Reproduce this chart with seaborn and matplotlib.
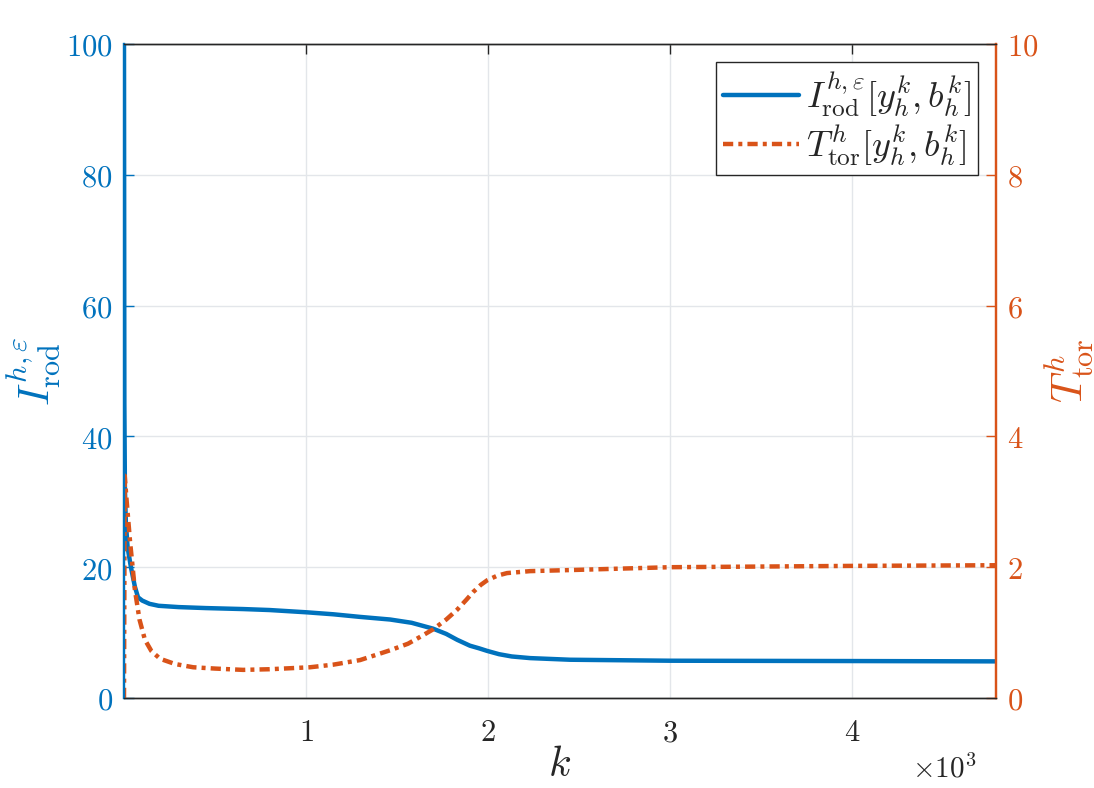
import numpy as np
import pandas as pd
import matplotlib
matplotlib.use("Agg")
import matplotlib.pyplot as plt
import seaborn as sns
from matplotlib.ticker import FixedLocator, FuncFormatter

# ---- data ----
k_rod = [0, 2, 5, 10, 20, 38, 60, 77, 100, 140, 190, 300, 450, 654, 800, 1005,
         1150, 1297, 1462, 1580, 1698, 1770, 1830, 1900, 1950, 1995, 2060, 2130,
         2231, 2450, 3000, 4000, 4790]
I_rod = [100, 45, 32, 27, 23, 20, 17, 15.4, 14.9, 14.4, 14.1, 13.9, 13.75, 13.6,
         13.45, 13.1, 12.8, 12.4, 12.0, 11.5, 10.6, 9.8, 8.9, 8.0, 7.6, 7.2, 6.7,
         6.35, 6.1, 5.85, 5.7, 5.65, 5.6]

k_tor = [0, 4, 15, 33, 60, 85, 115, 150, 198, 280, 380, 500, 654, 800, 1022, 1150,
         1297, 1462, 1560, 1643, 1698, 1770, 1830, 1880, 1918, 1960, 1995, 2050,
         2104, 2231, 2500, 3000, 4000, 4790]
T_tor = [0, 3.4, 3.0, 2.4, 1.65, 1.2, 0.89, 0.72, 0.6, 0.52, 0.47, 0.45, 0.43, 0.44,
         0.47, 0.51, 0.58, 0.73, 0.83, 0.96, 1.05, 1.2, 1.35, 1.5, 1.62, 1.73, 1.80,
         1.87, 1.91, 1.94, 1.96, 2.0, 2.02, 2.03]

x_ticks = [1000, 2000, 3000, 4000]
left_ticks = [0, 20, 40, 60, 80, 100]
right_ticks = [0, 2, 4, 6, 8, 10]

label_rod = r"$I^{h,\varepsilon}_{\mathrm{rod}}[y^k_h,b^k_h]$"
label_tor = r"$T^{h}_{\mathrm{tor}}[y^k_h,b^k_h]$"

BLUE = "#0072BD"
ORANGE = "#D95319"
DARK = "#262626"

sns.set_theme(style="white")
plt.rcParams["font.family"] = ["DejaVu Serif"]
plt.rcParams["mathtext.fontset"] = "cm"

df_rod = pd.DataFrame({"k": k_rod, "v": I_rod})
df_tor = pd.DataFrame({"k": k_tor, "v": T_tor})

fig = plt.figure(figsize=(10.94, 7.88), dpi=100)
ax = fig.add_axes([124 / 1094, 1 - 698 / 788, 872 / 1094, 654 / 788])
ax2 = ax.twinx()

sns.lineplot(data=df_rod, x="k", y="v", ax=ax, color=BLUE, lw=3.2,
             label=label_rod, legend=False)
sns.lineplot(data=df_tor, x="k", y="v", ax=ax2, color=ORANGE, lw=3.2,
             label=label_tor, legend=False)
ax2.lines[0].set_linestyle((0, (2.3, 1.15, 0.9, 1.15)))

ax.set_xlim(0, 4790)
ax.set_ylim(0, 100)
ax2.set_ylim(0, 10)

fmt = FuncFormatter(lambda v, p: r"$%g$" % v)
ax.xaxis.set_major_locator(FixedLocator(x_ticks))
ax.xaxis.set_major_formatter(FuncFormatter(lambda v, p: r"$%g$" % (v / 1000)))
ax.yaxis.set_major_locator(FixedLocator(left_ticks))
ax.yaxis.set_major_formatter(fmt)
ax2.yaxis.set_major_locator(FixedLocator(right_ticks))
ax2.yaxis.set_major_formatter(fmt)

ax.grid(True, color="#e3e6ea", lw=1.0)
ax.set_axisbelow(True)

ax.tick_params(axis="x", direction="in", length=7, width=1, colors=DARK,
               labelsize=22, pad=14, top=True)
ax.tick_params(axis="y", direction="in", length=7, width=1, colors=BLUE,
               labelsize=22, pad=8)
ax2.tick_params(axis="y", direction="in", length=7, width=1, colors=ORANGE,
                labelsize=22, pad=8)

for a in (ax, ax2):
    for s in a.spines.values():
        s.set_linewidth(1.0)
    a.spines["top"].set_color(DARK)
    a.spines["bottom"].set_color(DARK)
    a.spines["left"].set_color(BLUE)
    a.spines["right"].set_color(ORANGE)
    a.spines["left"].set_linewidth(1.6)
    a.spines["right"].set_linewidth(1.6)

ax.set_xlabel(r"$k$", fontsize=30, color=DARK, labelpad=-4)
ax.set_ylabel(r"$I^{h,\varepsilon}_{\mathrm{rod}}$", fontsize=31, color=BLUE, labelpad=2)
ax2.set_ylabel(r"$T^{h}_{\mathrm{tor}}$", fontsize=31, color=ORANGE, rotation=90,
               labelpad=3)

ax.text(0.941, -0.108, r"$\times10^3$", transform=ax.transAxes, fontsize=21,
        color=DARK, ha="center", va="center")

h1, l1 = ax.get_legend_handles_labels()
h2, l2 = ax2.get_legend_handles_labels()
leg = ax2.legend(h1 + h2, l1 + l2, loc="upper right", fontsize=26,
                 frameon=True, fancybox=False, edgecolor=DARK, framealpha=1,
                 handlelength=2.1, handletextpad=0.2, borderpad=0.2,
                 labelspacing=0.1, borderaxespad=0.5)
leg.get_frame().set_linewidth(1.0)

fig.savefig("out.png", dpi=100)
